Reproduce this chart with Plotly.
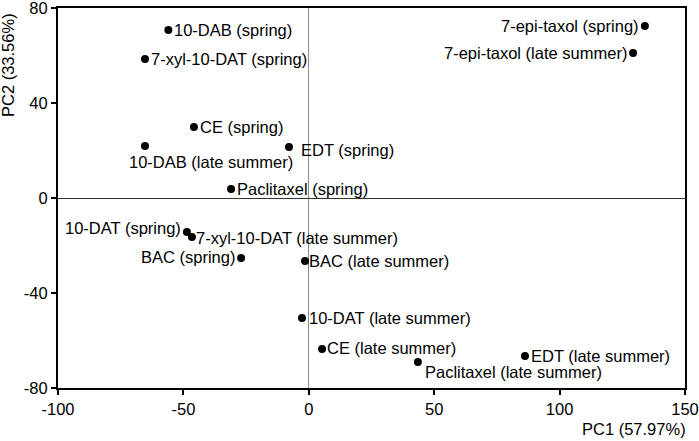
import plotly.graph_objects as go

# PCA scores
labels = [
    "10-DAB (spring)", "7-xyl-10-DAT (spring)", "CE (spring)", "10-DAB (late summer)",
    "EDT (spring)", "Paclitaxel (spring)", "7-epi-taxol (spring)", "7-epi-taxol (late summer)",
    "10-DAT (spring)", "7-xyl-10-DAT (late summer)", "BAC (spring)", "BAC (late summer)",
    "10-DAT (late summer)", "CE (late summer)", "Paclitaxel (late summer)", "EDT (late summer)",
]
pc1 = [-56, -65.3, -45.8, -65.3, -7.9, -31, 134, 129.3, -48.6, -46.6, -27, -1.5, -2.7, 5.3, 43.5, 86.2]
pc2 = [70.7, 58.5, 29.9, 21.9, 21.5, 3.8, 72.4, 61.1, -14.3, -16.4, -25.3, -26.5, -50.5, -63.6, -69, -66.5]

x_ticks = [-100, -50, 0, 50, 100, 150]
y_ticks = [-80, -40, 0, 40, 80]

# label placement: (xanchor, xshift, yshift) in pixels
label_pos = [
    ("left", 4, 0), ("left", 4, 0), ("left", 4, 0), ("left", -18, -16),
    ("left", 10, -3), ("left", 4, 0), ("right", -4, 0), ("right", -4, 0),
    ("right", -4, 4), ("left", 2, -1), ("right", -4, 1), ("left", 2, 0),
    ("left", 5, 0), ("left", 3, 1), ("left", 5, -10), ("left", 4, 0),
]

FONT = "Liberation Sans, Arial, sans-serif"
FS = 16.5

fig = go.Figure()
fig.add_trace(go.Scatter(
    x=pc1, y=pc2, mode="markers",
    marker=dict(color="black", size=8),
    hovertext=labels, hoverinfo="text", showlegend=False,
))

for xv, yv, txt, (anchor, dx, dy) in zip(pc1, pc2, labels, label_pos):
    fig.add_annotation(
        x=xv, y=yv, text=txt, showarrow=False,
        xanchor=anchor, yanchor="middle", xshift=dx, yshift=dy,
        font=dict(size=FS, color="black", family=FONT),
    )

fig.add_annotation(
    x=1, y=0, xref="paper", yref="paper", text="PC1 (57.97%)", showarrow=False,
    xanchor="right", yanchor="middle", yshift=-41, xshift=3,
    font=dict(size=FS, color="black", family=FONT),
)
fig.add_annotation(
    x=0, y=1, xref="paper", yref="paper", text="PC2 (33.56%)", showarrow=False,
    textangle=-90, xanchor="right", yanchor="top", xshift=-39, yshift=-3,
    font=dict(size=FS, color="black", family=FONT),
)

axis_common = dict(
    showgrid=False, showline=True, linecolor="black", linewidth=2, mirror=True,
    ticks="outside", ticklen=5, tickwidth=1.5, tickcolor="black",
    tickfont=dict(size=FS, color="black", family=FONT),
    zeroline=True, zerolinewidth=1, automargin=False, ticklabeloverflow="allow",
)

fig.update_xaxes(range=[-100, 150], tickvals=x_ticks, ticktext=[str(v) for v in x_ticks],
                 zerolinecolor="#8c8c8c", **axis_common)
fig.update_yaxes(range=[-80, 80], tickvals=y_ticks, ticktext=[str(v) for v in y_ticks],
                 zerolinecolor="#333333", **axis_common)

fig.update_layout(
    width=699, height=441,
    margin=dict(l=58, r=14, t=8, b=53),
    plot_bgcolor="white", paper_bgcolor="white",
    font=dict(family=FONT, color="black"),
)

# drop the page's default body margin so the figure sits at the window corner
fig.write_html("out.html", config={"displayModeBar": False},
               post_script="document.body.style.margin='0';")
